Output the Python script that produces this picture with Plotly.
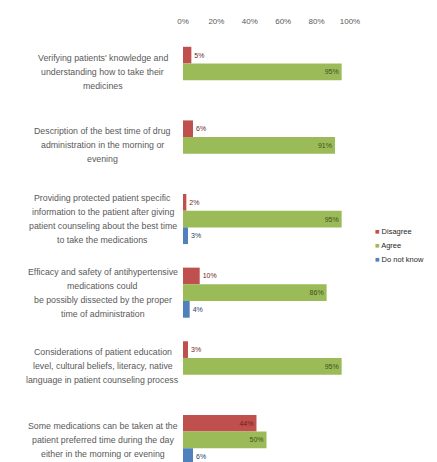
import plotly.graph_objects as go

# Survey statements (one line per list entry)
statements = [
    ["Verifying patients' knowledge and", "understanding how to take their", "medicines"],
    ["Description of the best time of drug", "administration in the morning or", "evening"],
    ["Providing protected patient specific", "information to the patient after giving",
     "patient counseling about the best time", "to take the medications"],
    ["Efficacy and safety of antihypertensive", "medications could",
     "be possibly dissected by the proper", "time of administration"],
    ["Considerations of patient education", "level, cultural beliefs, literacy, native",
     "language in patient counseling process"],
    ["Some medications can be taken at the", "patient preferred time during the day",
     "either in the morning or evening"],
]

# Percentage of respondents per answer
disagree = [5, 6, 2, 10, 3, 44]
agree = [95, 91, 95, 86, 95, 50]
do_not_know = [None, None, 3, 4, None, 6]

tick_vals = [0, 20, 40, 60, 80, 100]
tick_text = ["0%", "20%", "40%", "60%", "80%", "100%"]

FONT = "Liberation Sans, Arial, sans-serif"
y_pos = list(range(len(statements)))


def labels(vals):
    return [f"{v}%" if v is not None else "" for v in vals]


def positions(vals):
    return ["inside" if (v is not None and v >= 20) else "outside" for v in vals]


series = [
    ("Disagree", disagree, "#C0504D", "#6e1f1d"),
    ("Agree", agree, "#9BBB59", "#3d4f1c"),
    ("Do not know", do_not_know, "#4F81BD", "#24406a"),
]

fig = go.Figure()
for name, vals, color, txt in series:
    fig.add_trace(go.Bar(
        name=name, x=vals, y=y_pos, orientation="h",
        marker=dict(color=color, line=dict(width=0)),
        text=labels(vals), textposition=positions(vals),
        insidetextanchor="end", textangle=0,
        textfont=dict(size=7, color=txt, family=FONT),
        cliponaxis=False, showlegend=False,
    ))

# Wrapped, centred category labels
annotations = []
line_step = 14
for i, lines in enumerate(statements):
    n = len(lines)
    for j, line in enumerate(lines):
        annotations.append(dict(
            text=line, xref="paper", yref="y", x=-0.48, y=i,
            yshift=-(j - (n - 1) / 2) * line_step,
            xanchor="center", yanchor="middle", showarrow=False,
            font=dict(size=8.8, color="#595959", family=FONT),
        ))

# Compact legend: coloured square + series name
for k, (name, _, color, _) in enumerate(series):
    annotations.append(dict(
        text=f"<span style='color:{color}'>■</span> {name}",
        xref="paper", yref="paper", x=1.14, y=1 - (231 - 35 + 14 * k) / 427,
        xanchor="left", yanchor="middle", showarrow=False,
        font=dict(size=7.5, color="#262626", family=FONT),
    ))

fig.update_layout(
    width=437, height=462,
    margin=dict(l=183, r=87, t=35, b=0),
    paper_bgcolor="white", plot_bgcolor="white",
    barmode="group", bargap=0.32, bargroupgap=0.0,
    font=dict(family=FONT, color="#595959"),
    annotations=annotations,
    showlegend=False,
    xaxis=dict(
        side="top", range=[0, 100], tickvals=tick_vals, ticktext=tick_text,
        showgrid=False, zeroline=False, showline=False, ticks="",
        tickfont=dict(size=8, color="#595959"), ticklabelstandoff=8,
    ),
    yaxis=dict(
        range=[5.3, -0.5], showticklabels=False, showgrid=False,
        zeroline=False, showline=False, ticks="",
    ),
)

fig.write_html("out.html")
